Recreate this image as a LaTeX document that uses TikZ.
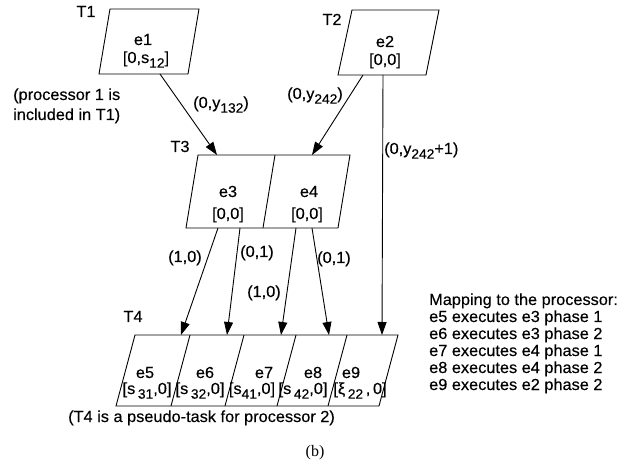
\documentclass[tikz,border=0pt]{standalone}
\usepackage{fontspec}
\setmainfont{Liberation Sans}[FakeStretch=1.02,FakeBold=0.3]
\newfontfamily\capserif{Liberation Serif}
\usetikzlibrary{arrows.meta}
\newcommand{\lo}[1]{\raisebox{-0.55ex}{\fontsize{13.5}{14}\selectfont #1}}
\begin{document}
\begin{tikzpicture}[x=1pt,y=-1pt,
  every node/.style={inner sep=0pt, font=\fontsize{16}{17}\selectfont},
  box/.style={line width=0.9pt, line join=miter},
  conn/.style={line width=0.9pt, -{Triangle[length=13pt,width=9pt]}},
  txt/.style={anchor=base},
  ltxt/.style={anchor=base west}]
\useasboundingbox (0,0) rectangle (627,465);

% ---- T1 ----
\node[txt] (T1) at (86,17) {T1};
\draw[box] (110,9) -- (199,9) -- (188,74) -- (99,74) -- cycle;
\node[txt] (e1) at (143,45) {e1};
\node[txt] (e1r) at (146,63) {[0,s\lo{12}]};
\node[ltxt] (p1a) at (13,100) {(processor 1 is};
\node[ltxt] (p1b) at (13,120) {included in T1)};

% ---- T2 ----
\node[txt] (T2) at (332,25) {T2};
\draw[box] (352,10) -- (439,10) -- (426,75) -- (338,75) -- cycle;
\node[txt] (e2) at (385,47) {e2};
\node[txt] (e2r) at (385,65) {[0,0]};

% ---- T3 ----
\node[txt] (T3) at (180,152) {T3};
\draw[box] (198,155) -- (350,155) -- (338,228) -- (186,228) -- cycle;
\draw[box] (275,155) -- (263,228);
\node[txt] (e3) at (228,197) {e3};
\node[txt] (e3r) at (228,219) {[0,0]};
\node[txt] (e4) at (309,197) {e4};
\node[txt] (e4r) at (307,219) {[0,0]};

% ---- T4 ----
\node[txt] (T4) at (133,322) {T4};
\draw[box] (135,335) -- (398,335) -- (379,406) -- (116,406) -- cycle;
\draw[box] (190,335) -- (171,406);
\draw[box] (244,335) -- (225,406);
\draw[box] (296,335) -- (277,406);
\draw[box] (347,335) -- (328,406);
\node[txt] (e5) at (145,378) {e5};
\node[txt] (e5r) at (147,394) {[s\,\lo{31},0]};
\node[txt] (e6) at (205,378) {e6};
\node[txt] (e6r) at (200,394) {[s\,\lo{32},0]};
\node[txt] (e7) at (264,378) {e7};
\node[txt] (e7r) at (252,394) {[s\lo{41},0]};
\node[txt] (e8) at (313,378) {e8};
\node[txt] (e8r) at (303,394) {[s\,\lo{42},0]};
\node[txt] (e9) at (351,378) {e9};
\node[txt] (e9r) at (360,394) {[ξ\,\lo{22}\,,\,0]};

% ---- connectors ----
\coordinate (e1o) at (160,74);  \coordinate (e3i) at (217,155);
\coordinate (e2o) at (363,75);  \coordinate (e4i) at (312,155);
\coordinate (e2v) at (383,75);  \coordinate (e9i) at (382,335);
\coordinate (e3a) at (218,228); \coordinate (e5i) at (181,335);
\coordinate (e3b) at (240,228); \coordinate (e6i) at (227,335);
\coordinate (e4a) at (296,228); \coordinate (e7i) at (281,335);
\coordinate (e4b) at (312,228); \coordinate (e8i) at (329,335);
\draw[conn] (e1o) -- (e3i);
\draw[conn] (e2o) -- (e4i);
\draw[conn] (e2v) -- (e9i);
\draw[conn] (e3a) -- (e5i);
\draw[conn] (e3b) -- (e6i);
\draw[conn] (e4a) -- (e7i);
\draw[conn] (e4b) -- (e8i);

% ---- connector labels ----
\node[ltxt] (l13) at (193,108) {(0,y\lo{132})};
\node[ltxt] (l24) at (287,99) {(0,y\lo{242})};
\node[ltxt] (l29) at (384,154) {(0,y\lo{242}+1)};
\node[ltxt] (l35) at (168,262) {(1,0)};
\node[ltxt] (l36) at (240,257) {(0,1)};
\node[ltxt] (l47) at (247,297) {(1,0)};
\node[ltxt] (l48) at (317,263) {(0,1)};

% ---- notes ----
\node[ltxt] (m0) at (429,305) {Mapping to the processor:};
\node[ltxt] (m1) at (429,322) {e5 executes e3 phase 1};
\node[ltxt] (m2) at (429,339) {e6 executes e3 phase 2};
\node[ltxt] (m3) at (429,356) {e7 executes e4 phase 1};
\node[ltxt] (m4) at (429,373) {e8 executes e4 phase 2};
\node[ltxt] (m5) at (429,390) {e9 executes e2 phase 2};
\node[ltxt] (t4note) at (68,422) {(T4 is a pseudo-task for processor 2)};
\node[txt, font=\capserif\fontsize{16}{17}\selectfont] (cap) at (315,456) {(b)};
\end{tikzpicture}
\end{document}
